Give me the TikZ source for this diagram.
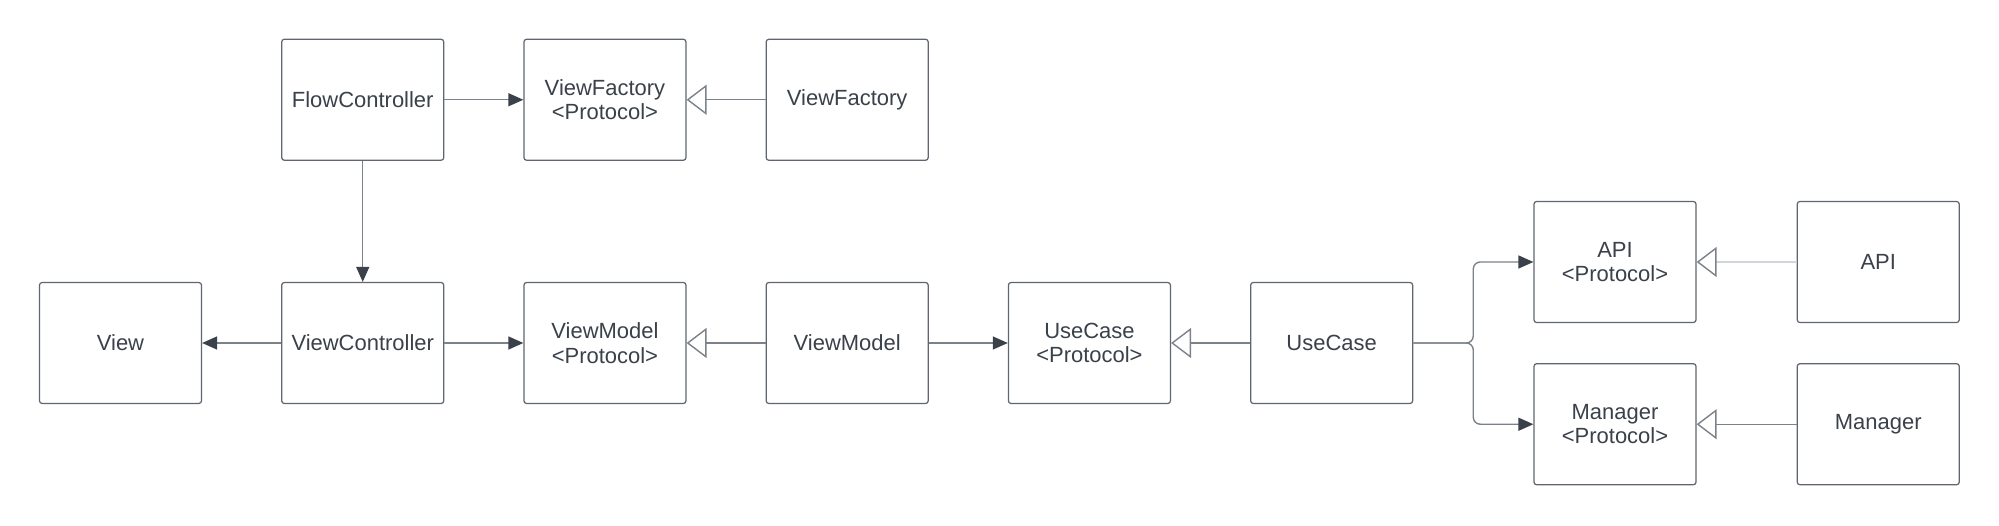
\documentclass[tikz,border=0pt]{standalone}
\usepackage{fontspec}
\setmainfont{Liberation Sans}
\usetikzlibrary{arrows.meta, positioning, calc}
\definecolor{BoxLine}{HTML}{5F6670}
\definecolor{TextDark}{HTML}{3A414A}
\definecolor{EdgeLine}{HTML}{7C828A}
\definecolor{FaintLine}{HTML}{D2D5D9}

\begin{document}
\begin{tikzpicture}[
    box/.style={
        rectangle, rounded corners=1.5pt, minimum width=3.24cm,
        minimum height=2.42cm, draw=BoxLine, line width=0.7pt,
        fill=white, align=center, text=TextDark,
        font=\fontsize{12.5}{14}\selectfont
    },
    uses/.style={-{Triangle[length=0.3cm, width=0.26cm, color=TextDark]},
                 line width=0.8pt, EdgeLine},
    impl/.style={-{Triangle[open, length=0.4cm, width=0.6cm, fill=white, color=EdgeLine]},
                 line width=0.8pt, EdgeLine},
    node distance=1.58cm
]
\useasboundingbox (0,0) rectangle (39.98,-10.52);

% Main row
\node[box] (view) at (2.41,-6.86) {View};
\node[box, right=of view] (vc) {ViewController};
\node[box, right=of vc] (vmproto) {ViewModel\\<Protocol>};
\node[box, right=of vmproto] (vm) {ViewModel};
\node[box, right=of vm] (ucproto) {UseCase\\<Protocol>};
\node[box, right=of ucproto] (uc) {UseCase};

% Top row
\node[box, above=2.42cm of vc] (flow) {FlowController};
\node[box, right=of flow] (vfproto) {ViewFactory\\<Protocol>};
\node[box, right=of vfproto] (vf) {ViewFactory};

% Services
\node[box] (apiproto) at (32.30,-5.24) {API\\<Protocol>};
\node[box, below=0.8cm of apiproto] (mgrproto) {Manager\\<Protocol>};
\node[box, right=2cm of apiproto] (api) {API};
\node[box, right=2cm of mgrproto] (mgr) {Manager};

% Arrows
\draw[uses] (flow) -- (vfproto);
\draw[impl] (vf) -- (vfproto);
\draw[uses] (flow) -- (vc);
\draw[uses] (vc) -- (view);
\draw[uses] (vc) -- (vmproto);
\draw[impl] (vm) -- (vmproto);
\draw[uses] (vm) -- (ucproto);
\draw[impl] (uc) -- (ucproto);
\draw[impl, FaintLine] (api) -- (apiproto);
\draw[impl] (mgr) -- (mgrproto);

\coordinate (fork) at ($(uc.east)+(1.2,0)$);
\foreach \t in {apiproto, mgrproto} {
    \draw[uses, rounded corners=4pt] (uc.east) -- (fork) |- (\t.west);
}

\end{tikzpicture}
\end{document}
